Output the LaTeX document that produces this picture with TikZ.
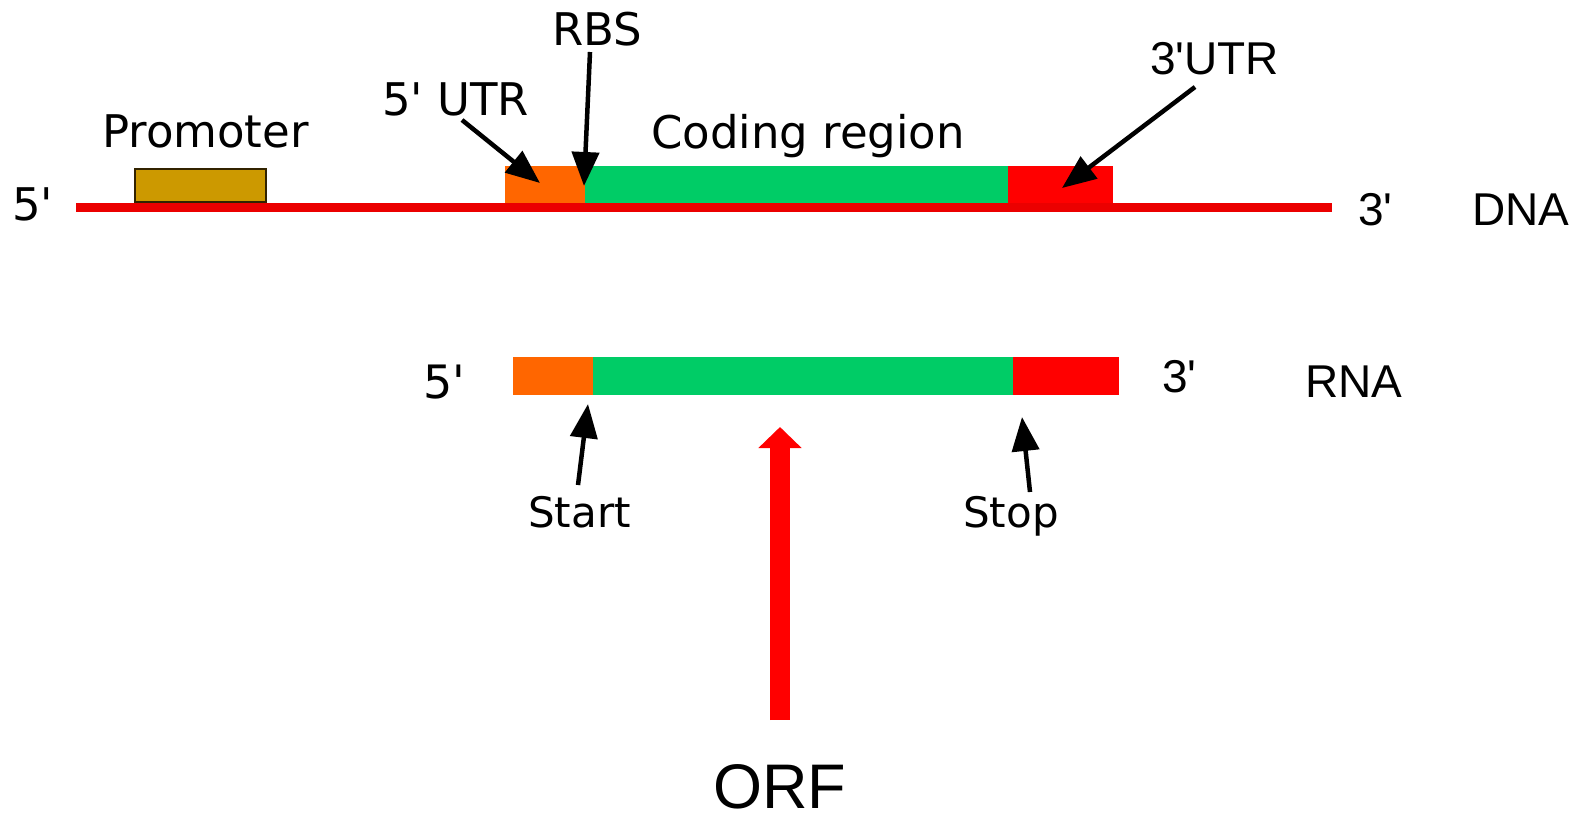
\documentclass[tikz,border=0pt]{standalone}
\usepackage{fontspec}
\newfontfamily\dv{DejaVu Sans}[Ligatures=TeXOff]
\newfontfamily\lib{Liberation Sans}[Ligatures=TeXOff]
\usetikzlibrary{arrows.meta}
\definecolor{utrorange}{RGB}{255,102,0}
\definecolor{codegreen}{RGB}{0,204,102}
\definecolor{utrred}{RGB}{255,0,0}
\definecolor{dnared}{RGB}{235,0,0}
\definecolor{promfill}{RGB}{204,153,0}
\definecolor{promedge}{RGB}{50,35,0}
\begin{document}
\begin{tikzpicture}[x=1pt,y=-1pt,
  lbl/.style={inner sep=0pt, anchor=base west, font=\dv\fontsize{45}{50}\selectfont},
  slbl/.style={inner sep=0pt, anchor=base west, font=\dv\fontsize{42}{50}\selectfont},
  albl/.style={inner sep=0pt, anchor=base west, font=\lib\fontsize{46}{50}\selectfont},
  ptr/.style={draw=black, line width=4.5pt, -{Triangle[width=27pt,length=34pt]}},
  seg/.style={inner sep=0pt, outer sep=0pt, minimum height=38pt, anchor=north west, draw=none}
]
\useasboundingbox (0,0) rectangle (1589,819);

% ---------- DNA ----------
\node[seg, fill=promfill, draw=promedge, line width=2.5pt, minimum width=131pt, minimum height=33pt] (prom) at (135,169) {};
\node[seg, fill=utrorange, minimum width=80pt] (dutr5) at (505,166) {};
\node[seg, fill=codegreen, minimum width=423pt] (dcode) at (585,166) {};
\node[seg, fill=utrred, minimum width=105pt] (dutr3) at (1008,166) {};
\coordinate (d5) at (76,207.5);
\coordinate (d3) at (1332,207.5);
\draw[dnared, line width=9pt] (d5) -- (d3);

\node[lbl] (t5dna) at (12,220) {5'};
\node[lbl] (tprom) at (102,147) {Promoter};
\node[lbl] (tutr5) at (382,115) {5' UTR};
\node[lbl, anchor=base] (trbs) at (597,45) {RBS};
\node[lbl] (tcode) at (651,148) {Coding region};
\node[albl] (tutr3) at (1150,74) {3'UTR};
\node[albl] (t3dna) at (1358,225) {3'};
\node[albl] (tdna) at (1472,225) {DNA};

\coordinate (a5s) at (462,120);
\coordinate (a5t) at (540,183);
\coordinate (rbss) at (590,52);
\coordinate (rbst) at (584,186);
\coordinate (a3s) at (1195,87);
\coordinate (a3t) at (1062,188);
\draw[ptr] (a5s) -- (a5t);
\draw[ptr] (rbss) -- (rbst);
\draw[ptr] (a3s) -- (a3t);

% ---------- RNA ----------
\node[seg, fill=utrorange, minimum width=80pt] (rutr5) at (513,357) {};
\node[seg, fill=codegreen, minimum width=420pt] (rcode) at (593,357) {};
\node[seg, fill=utrred, minimum width=106pt] (rutr3) at (1013,357) {};

\node[lbl, font=\dv\fontsize{46}{50}\selectfont] (t5rna) at (423,398) {5'};
\node[albl] (t3rna) at (1162,392) {3'};
\node[albl] (trna) at (1305,397) {RNA};

\node[slbl] (tstart) at (528,527) {Start};
\node[slbl] (tstop) at (963,527) {Stop};
\coordinate (sts) at (578,485);
\coordinate (stt) at (588,404);
\coordinate (sps) at (1030,492);
\coordinate (spt) at (1022,417);
\draw[ptr] (sts) -- (stt);
\draw[ptr] (sps) -- (spt);

% ---------- ORF ----------
\node[inner sep=0pt, anchor=base west, font=\lib\fontsize{63}{70}\selectfont] (torf) at (713,808) {ORF};
\coordinate (orfb) at (780,720);
\coordinate (orft) at (780,427);
\draw[utrred, line width=20pt, -{Triangle[width=42pt,length=21pt]}] (orfb) -- (orft);
\end{tikzpicture}
\end{document}
